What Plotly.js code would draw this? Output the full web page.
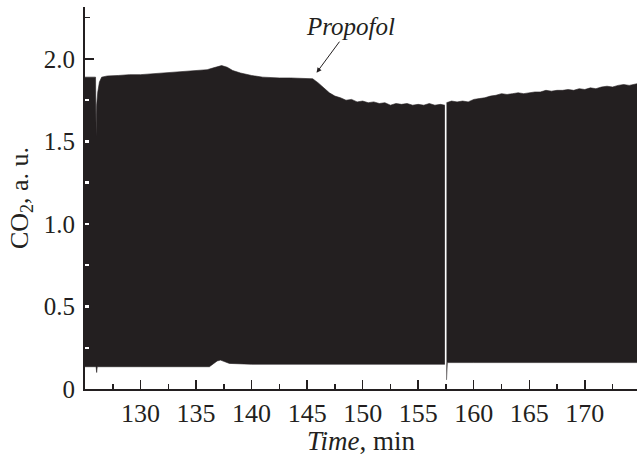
<!DOCTYPE html>
<html>
<head>
<meta charset="utf-8">
<script src="https://cdn.plot.ly/plotly-3.0.1.min.js"></script>
<style>html,body{margin:0;padding:0;background:#fff;}#chart{width:637px;height:456px;}</style>
</head>
<body>
<div id="chart"></div>
<script>
// Segment before the signal dropout (time in min, CO2 in a.u.)
var timeUpperA = [125.0,125.5,125.95,126.0,126.05,126.15,126.3,126.5,127,128,129,130,131,132,133,134,135,136,136.5,137,137.3,137.8,138.3,139,140,141,141.7,142.5,143.5,144.5,145.5,146,146.5,147,147.5,148,148.5,149,149.5,150,150.5,151,151.5,152,152.5,153,153.5,154,154.5,155,155.5,156,156.5,157,157.4];
var upperA     = [1.89,1.89,1.89,1.53,1.72,1.80,1.86,1.89,1.897,1.90,1.905,1.905,1.91,1.915,1.92,1.925,1.93,1.935,1.945,1.955,1.96,1.95,1.93,1.915,1.90,1.89,1.887,1.885,1.885,1.882,1.88,1.855,1.825,1.795,1.775,1.765,1.75,1.755,1.74,1.745,1.735,1.74,1.73,1.735,1.72,1.73,1.725,1.73,1.72,1.725,1.72,1.73,1.72,1.725,1.72];
var timeLowerA = [125.0,126.0,126.05,126.1,130,136.2,136.6,136.9,137.2,137.6,138.0,140,145,150,155,157.4];
var lowerA     = [0.135,0.135,0.10,0.135,0.135,0.135,0.155,0.17,0.175,0.165,0.155,0.15,0.15,0.15,0.15,0.15];
// Segment after the dropout
var timeUpperB = [157.55,158,158.5,159,159.5,160,160.5,161,161.5,162,162.5,163,163.5,164,164.5,165,165.5,166,166.5,167,167.5,168,168.5,169,169.5,170,170.5,171,171.5,172,172.5,173,173.5,174,174.7];
var upperB     = [1.735,1.745,1.74,1.745,1.74,1.755,1.76,1.765,1.775,1.78,1.79,1.785,1.79,1.795,1.79,1.795,1.80,1.80,1.81,1.805,1.81,1.81,1.815,1.81,1.82,1.815,1.825,1.82,1.83,1.835,1.83,1.84,1.845,1.84,1.85];
var timeLowerB = [157.55,157.62,160,165,170,174.7];
var lowerB     = [0.055,0.16,0.16,0.16,0.16,0.16];

var xTicks = [130,135,140,145,150,155,160,165,170];
var yTicks = [0,0.5,1.0,1.5,2.0];
var yTickText = ['0','0.5','1.0','1.5','2.0'];
var yInnerMarks = [0.25,0.5,0.75,1.0,1.25,1.5,1.75];

var ink = '#231f20';
var font = 'Liberation Serif, Times New Roman, serif';

function lineTrace(x, y, fill) {
  return {x: x, y: y, type: 'scatter', mode: 'lines', hoverinfo: 'skip', showlegend: false,
          line: {color: ink, width: 0.6}, fill: fill, fillcolor: ink};
}

var data = [
  lineTrace(timeLowerA, lowerA, 'none'),
  lineTrace(timeUpperA, upperA, 'tonexty'),
  lineTrace(timeLowerB, lowerB, 'none'),
  lineTrace(timeUpperB, upperB, 'tonexty'),
  {x: timeLowerA, y: lowerA, yaxis: 'y2', type: 'scatter', mode: 'none', hoverinfo: 'skip', showlegend: false}
];

var layout = {
  width: 637, height: 456,
  margin: {l: 85, r: 0, t: 7, b: 67, pad: 0},
  paper_bgcolor: '#fff', plot_bgcolor: '#fff',
  font: {family: font, color: ink, size: 25},
  xaxis: {
    range: [125, 174.7], tickmode: 'array', tickvals: xTicks,
    ticks: 'inside', ticklen: 9, tickwidth: 1.5, tickcolor: ink,
    minor: {tickmode: 'linear', tick0: 0, dtick: 2.5, ticks: 'inside', ticklen: 5, tickwidth: 1.5, tickcolor: ink, showgrid: false},
    showline: true, linewidth: 2, linecolor: ink, showgrid: false, zeroline: false,
    tickfont: {family: font, size: 26, color: ink},
    title: {text: '<i>Time</i>, min', font: {family: font, size: 27, color: ink}, standoff: 2}
  },
  yaxis: {
    range: [0, 2.315], tickmode: 'array', tickvals: yTicks, ticktext: yTickText,
    ticks: 'inside', ticklen: 9, tickwidth: 1.5, tickcolor: ink,
    minor: {tickmode: 'linear', tick0: 0, dtick: 0.25, ticks: 'inside', ticklen: 5, tickwidth: 1.5, tickcolor: ink, showgrid: false},
    showline: true, linewidth: 2, linecolor: ink, showgrid: false, zeroline: false,
    ticklabelstandoff: 3,
    tickfont: {family: font, size: 25, color: ink},
    title: {text: 'CO<sub>2</sub>, a. u.', font: {family: font, size: 26, color: ink}, standoff: 8}
  },
  yaxis2: {
    range: [0, 2.315], overlaying: 'y', side: 'left', tickmode: 'array', tickvals: yInnerMarks,
    ticks: 'inside', ticklen: 4, tickwidth: 2.5, tickcolor: '#fff', showticklabels: false,
    showline: false, showgrid: false, zeroline: false
  },
  annotations: [{
    x: 145.85, y: 1.917, xref: 'x', yref: 'y',
    text: '<i>Propofol</i>', showarrow: true, arrowhead: 2, arrowsize: 1, arrowwidth: 1, arrowcolor: ink,
    ax: 34, ay: -46, font: {family: font, size: 25, color: ink}
  }]
};

Plotly.newPlot('chart', data, layout, {displayModeBar: false, staticPlot: true});
</script>
</body>
</html>
